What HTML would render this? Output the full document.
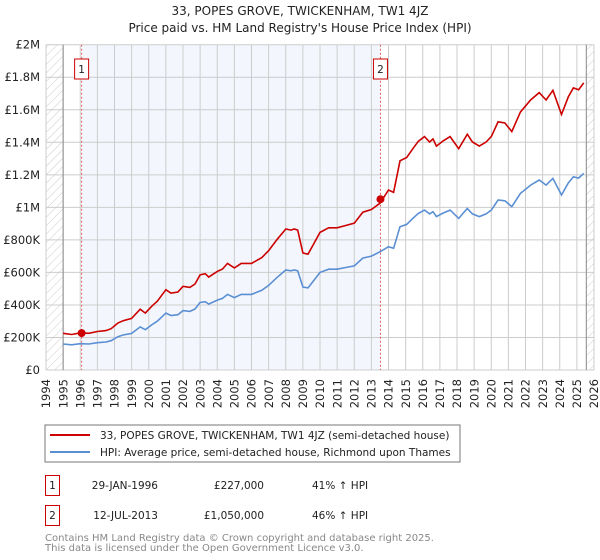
<!DOCTYPE html>
<html><head><meta charset="utf-8"><style>
body{margin:0;background:#fff;font-family:"DejaVu Sans","Liberation Sans",sans-serif;}
#wrap{position:relative;width:600px;height:560px;overflow:hidden}
</style></head><body>
<div id="wrap">
<svg id="svg" width="600" height="560" xmlns="http://www.w3.org/2000/svg" font-family="DejaVu Sans, Liberation Sans, sans-serif">
<defs><pattern id="hatch" width="6" height="6" patternUnits="userSpaceOnUse" patternTransform="rotate(45)"><line x1="0" y1="0" x2="0" y2="6" stroke="#ccc" stroke-width="1"/></pattern></defs>
<text x="300" y="15" text-anchor="middle" font-size="12" fill="#222">33, POPES GROVE, TWICKENHAM, TW1 4JZ</text>
<text x="300" y="32" text-anchor="middle" font-size="12" fill="#222">Price paid vs. HM Land Registry's House Price Index (HPI)</text>
<g id="plot"></g>
<rect x="45" y="425" width="415" height="37" fill="#fff" stroke="#777"/>
<line x1="50" y1="435" x2="90" y2="435" stroke="#cc0000" stroke-width="2"/>
<text x="100" y="439" font-size="10.5" fill="#222">33, POPES GROVE, TWICKENHAM, TW1 4JZ (semi-detached house)</text>
<line x1="50" y1="452" x2="90" y2="452" stroke="#5b8fd4" stroke-width="2"/>
<text x="100" y="456" font-size="10.5" fill="#222">HPI: Average price, semi-detached house, Richmond upon Thames</text>
<g font-size="10.5" fill="#222">
<rect x="45.5" y="475.5" width="14" height="20" fill="none" stroke="#cc0000"/>
<text x="52.5" y="489" text-anchor="middle">1</text>
<text x="158" y="489" text-anchor="end">29-JAN-1996</text>
<text x="264" y="489" text-anchor="end">£227,000</text>
<text x="312" y="489">41% ↑ HPI</text>
<rect x="45.5" y="505.5" width="14" height="20" fill="none" stroke="#cc0000"/>
<text x="52.5" y="519" text-anchor="middle">2</text>
<text x="158" y="519" text-anchor="end">12-JUL-2013</text>
<text x="264" y="519" text-anchor="end">£1,050,000</text>
<text x="312" y="519">46% ↑ HPI</text>
</g>
<text x="45" y="541" font-size="10" fill="#888">Contains HM Land Registry data © Crown copyright and database right 2025.</text>
<text x="45" y="551" font-size="10" fill="#888">This data is licensed under the Open Government Licence v3.0.</text>
</svg>
</div>
<script>
const hpiYears=[1995,1995.5,1996,1996.5,1997,1997.5,1997.8,1998.2,1998.5,1999,1999.5,1999.8,2000.2,2000.5,2001,2001.3,2001.7,2002,2002.4,2002.7,2003,2003.3,2003.5,2004,2004.3,2004.6,2005,2005.4,2006,2006.6,2007,2007.5,2008,2008.3,2008.5,2008.7,2009,2009.3,2009.6,2010,2010.5,2011,2011.5,2012,2012.5,2013,2013.5,2014,2014.3,2014.67,2015.06,2015.4,2015.74,2016.1,2016.4,2016.6,2016.8,2017.2,2017.6,2018.1,2018.6,2018.9,2019.3,2019.7,2020,2020.4,2020.8,2021.2,2021.7,2022.3,2022.8,2023.2,2023.6,2024.1,2024.5,2024.8,2025.1,2025.4];
const hpiValues=[160,155,162,160,168,172,180,205,215,225,265,248,280,300,350,335,340,365,360,375,415,420,405,430,440,465,445,465,465,490,520,570,615,610,615,610,510,505,545,600,620,620,630,640,688,700,727,758,748,881,895,930,963,983,960,973,943,965,983,932,993,960,943,960,983,1045,1040,1004,1086,1137,1168,1137,1178,1076,1150,1188,1180,1209];
const factorBefore=1.41, factorAfter=1.46, changeYear=2013.53;
const sales=[{year:1996.08,value:227},{year:2013.53,value:1050}];
const yTicks=[0,200,400,600,800,1000,1200,1400,1600,1800,2000];
const yTickLabels=["£0","£200K","£400K","£600K","£800K","£1M","£1.2M","£1.4M","£1.6M","£1.8M","£2M"];
const xTicks=[1994,1995,1996,1997,1998,1999,2000,2001,2002,2003,2004,2005,2006,2007,2008,2009,2010,2011,2012,2013,2014,2015,2016,2017,2018,2019,2020,2021,2022,2023,2024,2025,2026];

const X0=46,X1=594,Y0=370,Y1=44.7;
const xs=y=>X0+(y-1994)/32*(X1-X0);
const ys=v=>Y0-v/2000*(Y0-Y1);
const NS="http://www.w3.org/2000/svg";
const g=document.getElementById('plot');
function mk(t,a){const e=document.createElementNS(NS,t);for(const k in a)e.setAttribute(k,a[k]);g.appendChild(e);return e;}

let e=mk('rect',{x:xs(1996.08),y:Y1,width:xs(2013.53)-xs(1996.08),height:Y0-Y1,fill:'#eef3fc',opacity:0.7});


e=mk('rect',{x:X0,y:Y1,width:xs(1995)-X0,height:Y0-Y1,fill:'url(#hatch)'});


e=mk('rect',{x:xs(2025.55),y:Y1,width:X1-xs(2025.55),height:Y0-Y1,fill:'url(#hatch)'});



yTicks.forEach((v,i)=>{
  let l=mk('line',{x1:X0,x2:X1,y1:ys(v),y2:ys(v),stroke:'#ccc','stroke-width':1});
  
  
  let t=mk('text',{x:40,y:ys(v)+4,'text-anchor':'end','font-size':11.5,fill:'#222'});
  t.textContent=yTickLabels[i];
  
  
});
xTicks.forEach(y=>{
  let l=mk('line',{x1:xs(y),x2:xs(y),y1:Y1,y2:Y0,stroke:'#ccc','stroke-width':1});
  
  
  let t=mk('text',{x:0,y:0,'text-anchor':'end','font-size':11.5,fill:'#222',transform:`translate(${xs(y)+4.2},${Y0+9}) rotate(-90)`});
  t.textContent=y;
  
  
});
e=mk('line',{x1:xs(1995),x2:xs(1995),y1:Y1,y2:Y0,stroke:'#888'});


e=mk('line',{x1:xs(2025.55),x2:xs(2025.55),y1:Y1,y2:Y0,stroke:'#888'});



sales.forEach((s,i)=>{
  let l=mk('line',{x1:xs(s.year),x2:xs(s.year),y1:Y1,y2:Y0,stroke:'#e06060','stroke-dasharray':'2,2','stroke-width':1});
  
  
  let r=mk('rect',{x:xs(s.year)-7,y:59,width:14,height:20,fill:'#fff',stroke:'#cc0000'});
  
  
  let t=mk('text',{x:xs(s.year),y:73,'text-anchor':'middle','font-size':10.5,fill:'#222'});
  t.textContent=String(i+1);
  
  
});

const hp=hpiYears.map((y,i)=>xs(y).toFixed(1)+','+ys(hpiValues[i]).toFixed(1)).join(' ');
e=mk('polyline',{points:hp,fill:'none',stroke:'#5b8fd4','stroke-width':1.6});


const rp=hpiYears.map((y,i)=>xs(y).toFixed(1)+','+ys(hpiValues[i]*(y<changeYear?factorBefore:factorAfter)).toFixed(1)).join(' ');
e=mk('polyline',{points:rp,fill:'none',stroke:'#cc0000','stroke-width':1.6});


sales.forEach(s=>{
  let c=mk('circle',{cx:xs(s.year),cy:ys(s.value),r:4,fill:'#cc0000'});
  
  
});
</script>
</body></html>
